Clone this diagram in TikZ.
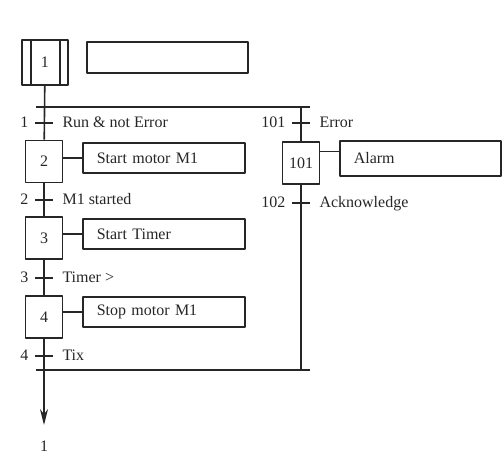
\documentclass[tikz,border=0pt]{standalone}
\usepackage{fontspec}
\setmainfont{Liberation Serif}
\usetikzlibrary{arrows.meta,positioning}
\definecolor{ink}{HTML}{262626}
\tikzset{
  stepbox/.style={draw=ink, line width=1.6pt, minimum width=37pt, minimum height=42pt, inner sep=0pt},
  actbox/.style={draw=ink, line width=1.6pt, minimum height=30pt, text width=134pt, align=left, inner xsep=14pt, inner ysep=0pt},
  cond/.style={text height=2.05ex, text depth=0pt}
}
\begin{document}
\begin{tikzpicture}[x=1pt,y=-1pt,>={Stealth[length=16pt,width=8pt]}, font=\fontsize{16}{19}\selectfont, color=ink, line join=round]
    \useasboundingbox (0,0) rectangle (504,464);
    \def\xa{44} \def\xb{301}
    % initial step and its empty action
    \node[stepbox, minimum width=46pt, minimum height=45pt] (s1) at (45,62.5) {1};
    \draw[line width=1.6pt] ([xshift=10pt]s1.north west) -- ([xshift=10pt]s1.south west);
    \draw[line width=1.6pt] ([xshift=-9pt]s1.north east) -- ([xshift=-9pt]s1.south east);
    \node[actbox, minimum height=31pt, text width=133pt] (a1) at (167.5,57.5) {};
    % left branch
    \node[stepbox] (s2) at (\xa,161.5) {2};
    \node[stepbox] (s3) at (\xa,238) {3};
    \node[stepbox] (s4) at (\xa,317) {4};
    \node[actbox, anchor=north west] (a2) at (82,142) {Start motor M1};
    \node[actbox, anchor=north west] (a3) at (82,218) {Start Timer};
    \node[actbox, anchor=north west] (a4) at (82,296) {Stop motor M1};
    % right branch
    \node[stepbox] (s101) at (\xb,163) {101};
    \node[actbox, minimum height=35pt, text width=133pt, anchor=north west] (a101) at (339,140) {Alarm};
    % divergence / convergence bars
    \coordinate (dl) at (36,107); \coordinate (dr) at (310,107);
    \coordinate (cl) at (36,370); \coordinate (cr) at (310,370);
    \coordinate (db) at (\xb,107); \coordinate (cb) at (\xb,370);
    \draw[line width=2.2pt] (dl) -- (dr);
    \draw[line width=2.2pt] (cl) -- (cr);
    % links
    \coordinate (arr) at (\xa,425);
    \draw[line width=1.6pt] (s1) -- (s2);
    \draw[line width=1.6pt] (s2) -- (s3);
    \draw[line width=1.6pt] (s3) -- (s4);
    \draw[line width=1.6pt,->] (s4) -- (arr);
    \node[below=12pt of arr] (ret) {1};
    \draw[line width=1.6pt] (db) -- (s101);
    \draw[line width=1.6pt] (s101) -- (cb);
    \foreach \s/\a in {s2/a2,s3/a3,s4/a4}
    \draw[line width=1.6pt] (\a.west) -- (\a.west -| \s.east);
    \draw[line width=1.6pt] ([yshift=7pt]a101.west) -- ([yshift=7pt]a101.west -| s101.east);
    % transitions
    \foreach \nm/\px/\py/\num/\txt in {t1/\xa/123/1/{Run \& not Error},t2/\xa/200/2/{M1 started},t3/\xa/278/3/{Timer >},t4/\xa/356/4/{Tix},t101/\xb/123/101/{Error},t102/\xb/203/102/{Acknowledge}}
    {
    \coordinate (\nm) at (\px,\py);
    \draw[line width=1.6pt] ([xshift=-9pt]\nm) -- ([xshift=9pt]\nm);
    \node[cond, anchor=east] (\nm n) at ([xshift=-12pt]\nm) {\num};
    \node[cond, anchor=west] (\nm c) at ([xshift=15pt]\nm) {\txt};
    }
\end{tikzpicture}
\end{document}
